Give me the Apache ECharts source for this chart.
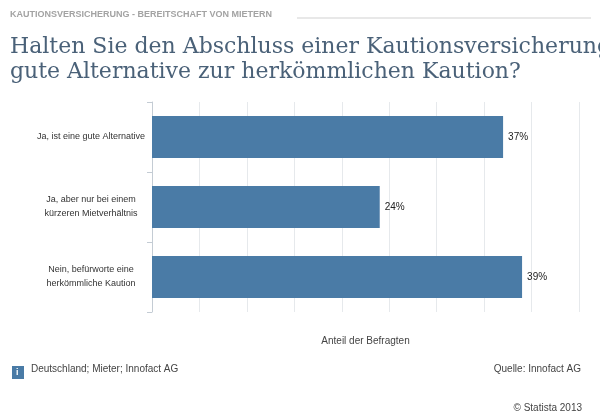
<!DOCTYPE html>
<html><head><meta charset="utf-8">
<style>html,body{margin:0;padding:0;background:#fff}#c{width:600px;height:420px}</style>
<script src="https://cdn.jsdelivr.net/npm/echarts@6/dist/echarts.min.js"></script>
</head><body><div id="c"></div>
<script>
const categories = ["Ja, ist eine gute Alternative", "Ja, aber nur bei einem\nkürzeren Mietverhältnis", "Nein, befürworte eine\nherkömmliche Kaution"];
const values = [37, 24, 39];
const kicker = "KAUTIONSVERSICHERUNG - BEREITSCHAFT VON MIETERN";
const titleLines = "Halten Sie den Abschluss einer Kautionsversicherung für eine\ngute Alternative zur herkömmlichen Kaution?";
const axisName = "Anteil der Befragten";
const infoText = "Deutschland; Mieter; Innofact AG";
const sourceText = "Quelle: Innofact AG";
const copyrightText = "© Statista 2013";
const sans = "'Liberation Sans', Arial, sans-serif";
const chart = echarts.init(document.getElementById('c'), null, {renderer:'canvas'});
chart.setOption({
  animation:false, backgroundColor:'#fff',
  grid:{left:152,right:21,top:102,bottom:108},
  xAxis:{type:'value',min:0,max:45,interval:5,
    axisLabel:{show:false},axisTick:{show:false},axisLine:{show:false},
    splitLine:{show:true,lineStyle:{color:'#e6e9ec',width:1}},
    name:axisName,nameLocation:'middle',nameGap:24,
    nameTextStyle:{fontFamily:sans,fontSize:10,color:'#444'}},
  yAxis:{type:'category',inverse:true,data:categories,
    axisLine:{show:true,lineStyle:{color:'#c4ccd4'}},
    axisTick:{show:true,length:5,lineStyle:{color:'#c4ccd4'}},
    axisLabel:{fontFamily:sans,fontSize:9,color:'#333',lineHeight:14,align:'center',margin:61}},
  series:[{type:'bar',data:values,barWidth:42,
    itemStyle:{color:'#4a7ba6'},
    label:{show:true,position:'right',distance:5,formatter:'{c}%',fontFamily:sans,fontSize:10,color:'#222'}}],
  graphic:[
    {type:'text',left:10,top:10,style:{text:kicker,font:"bold 9px "+sans,fill:'#a3a3a3'}},
    {type:'rect',shape:{x:297,y:17,width:294,height:2},style:{fill:'#e8e8e8'}},
    {type:'text',left:10,top:35,style:{text:titleLines,font:"22px 'DejaVu Serif', serif",fill:'#4a6178',lineHeight:25}},
    {type:'rect',shape:{x:12,y:366,width:12,height:13},style:{fill:'#4a7ba6'}},
    {type:'text',left:16,top:368,style:{text:'i',font:"bold 9px "+sans,fill:'#fff'}},
    {type:'text',left:31,top:364,style:{text:infoText,font:"10px "+sans,fill:'#444'}},
    {type:'text',right:19,top:364,style:{text:sourceText,font:"10px "+sans,fill:'#444'}},
    {type:'text',right:18,top:403,style:{text:copyrightText,font:"10px "+sans,fill:'#444'}}
  ]
});
</script></body></html>
